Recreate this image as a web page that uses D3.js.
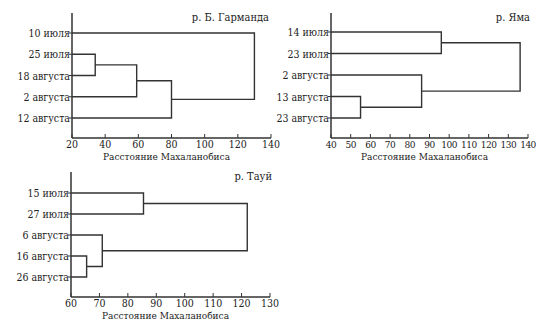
<!DOCTYPE html>
<html><head><meta charset="utf-8">
<script src="https://cdn.jsdelivr.net/npm/d3@7"></script>
<style>body{margin:0;background:#fff}svg{display:block}</style>
</head><body>
<svg id="c" width="536" height="322" font-family="'DejaVu Serif Condensed', 'DejaVu Serif', serif" font-stretch="condensed"></svg>
<script>
// Panel 1: р. Б. Гарманда
const title1 = "р. Б. Гарманда";
const leaves1 = ["10 июля","25 июля","18 августа","2 августа","12 августа"];
// merges: [nodeA, nodeB, distance]; nodes 0..4 leaves, 5.. clusters
const merges1 = [[1,2,34],[5,3,59],[6,4,80],[0,7,130]];
const ticks1 = [20,40,60,80,100,120,140];

// Panel 2: р. Яма
const title2 = "р. Яма";
const leaves2 = ["14 июля","23 июля","2 августа","13 августа","23 августа"];
const merges2 = [[3,4,55],[2,5,86],[0,1,96],[7,6,136]];
const ticks2 = [40,50,60,70,80,90,100,110,120,130,140];

// Panel 3: р. Тауй
const title3 = "р. Тауй";
const leaves3 = ["15 июля","27 июля","6 августа","16 августа","26 августа"];
const merges3 = [[3,4,65.5],[2,5,71],[0,1,85.5],[7,6,122]];
const ticks3 = [60,70,80,90,100,110,120,130];

const xLabel = "Расстояние Махаланобиса";

const svg = d3.select("#c");
const ink = "#333";

function panel(cfg){
  const {title, leaves, merges, ticks, x0, x1, top, bottom, ly0, ly1} = cfg;
  const g = svg.append("g").attr("fill","#222");
  const x = d3.scaleLinear().domain([ticks[0], ticks[ticks.length-1]]).range([x0, x1]);
  const y = d3.scalePoint().domain(leaves).range([ly0, ly1]);
  g.append("line").attr("x1",x0).attr("x2",x0).attr("y1",top).attr("y2",bottom).attr("stroke",ink).attr("stroke-width",1.5);
  g.append("line").attr("x1",x0).attr("x2",x1).attr("y1",bottom).attr("y2",bottom).attr("stroke",ink).attr("stroke-width",1.5);
  g.selectAll(".xt").data(ticks).enter().append("line")
    .attr("x1",d=>x(d)).attr("x2",d=>x(d)).attr("y1",bottom).attr("y2",bottom-4)
    .attr("stroke",ink).attr("stroke-width",1);
  g.selectAll(".xl").data(ticks).enter().append("text")
    .attr("x",d=>x(d)).attr("y",bottom+10).attr("text-anchor","middle")
    .attr("font-size",cfg.tfs).attr("letter-spacing",cfg.tls).text(d=>d);
  g.append("text").attr("x",(x0+x1)/2 - 5).attr("y",bottom+22).attr("text-anchor","middle")
    .attr("font-size",10).text(xLabel);
  g.selectAll(".yt").data(leaves).enter().append("line")
    .attr("x1",x0-3).attr("x2",x0).attr("y1",d=>y(d)).attr("y2",d=>y(d))
    .attr("stroke",ink).attr("stroke-width",1);
  g.selectAll(".yl").data(leaves).enter().append("text")
    .attr("x",x0-2).attr("y",d=>y(d)+4).attr("text-anchor","end")
    .attr("font-size",10.5).text(d=>d);
  g.append("text").attr("x",cfg.tx).attr("y",top+8).attr("text-anchor","end")
    .attr("font-size",11).text(title);
  const nodes = leaves.map(l=>({h:ticks[0], yy:y(l)}));
  const path = d3.path();
  merges.forEach(([a,b,h])=>{
    const A=nodes[a], B=nodes[b];
    path.moveTo(x(A.h), A.yy); path.lineTo(x(h), A.yy); path.lineTo(x(h), B.yy); path.lineTo(x(B.h), B.yy);
    nodes.push({h:h, yy:(A.yy+B.yy)/2});
  });
  g.append("path").attr("d",path.toString()).attr("fill","none").attr("stroke",ink).attr("stroke-width",1.4);
}

panel({title:title1, leaves:leaves1, merges:merges1, ticks:ticks1, x0:72, x1:271, top:13, bottom:138, ly0:33, ly1:118, tx:269, tfs:10.5, tls:0});
panel({title:title2, leaves:leaves2, merges:merges2, ticks:ticks2, x0:331, x1:528, top:13, bottom:138, ly0:32, ly1:118, tx:530, tfs:10, tls:-0.5});
panel({title:title3, leaves:leaves3, merges:merges3, ticks:ticks3, x0:71, x1:270, top:172, bottom:297, ly0:193, ly1:277, tx:272, tfs:10.5, tls:0});
</script>
</body></html>
